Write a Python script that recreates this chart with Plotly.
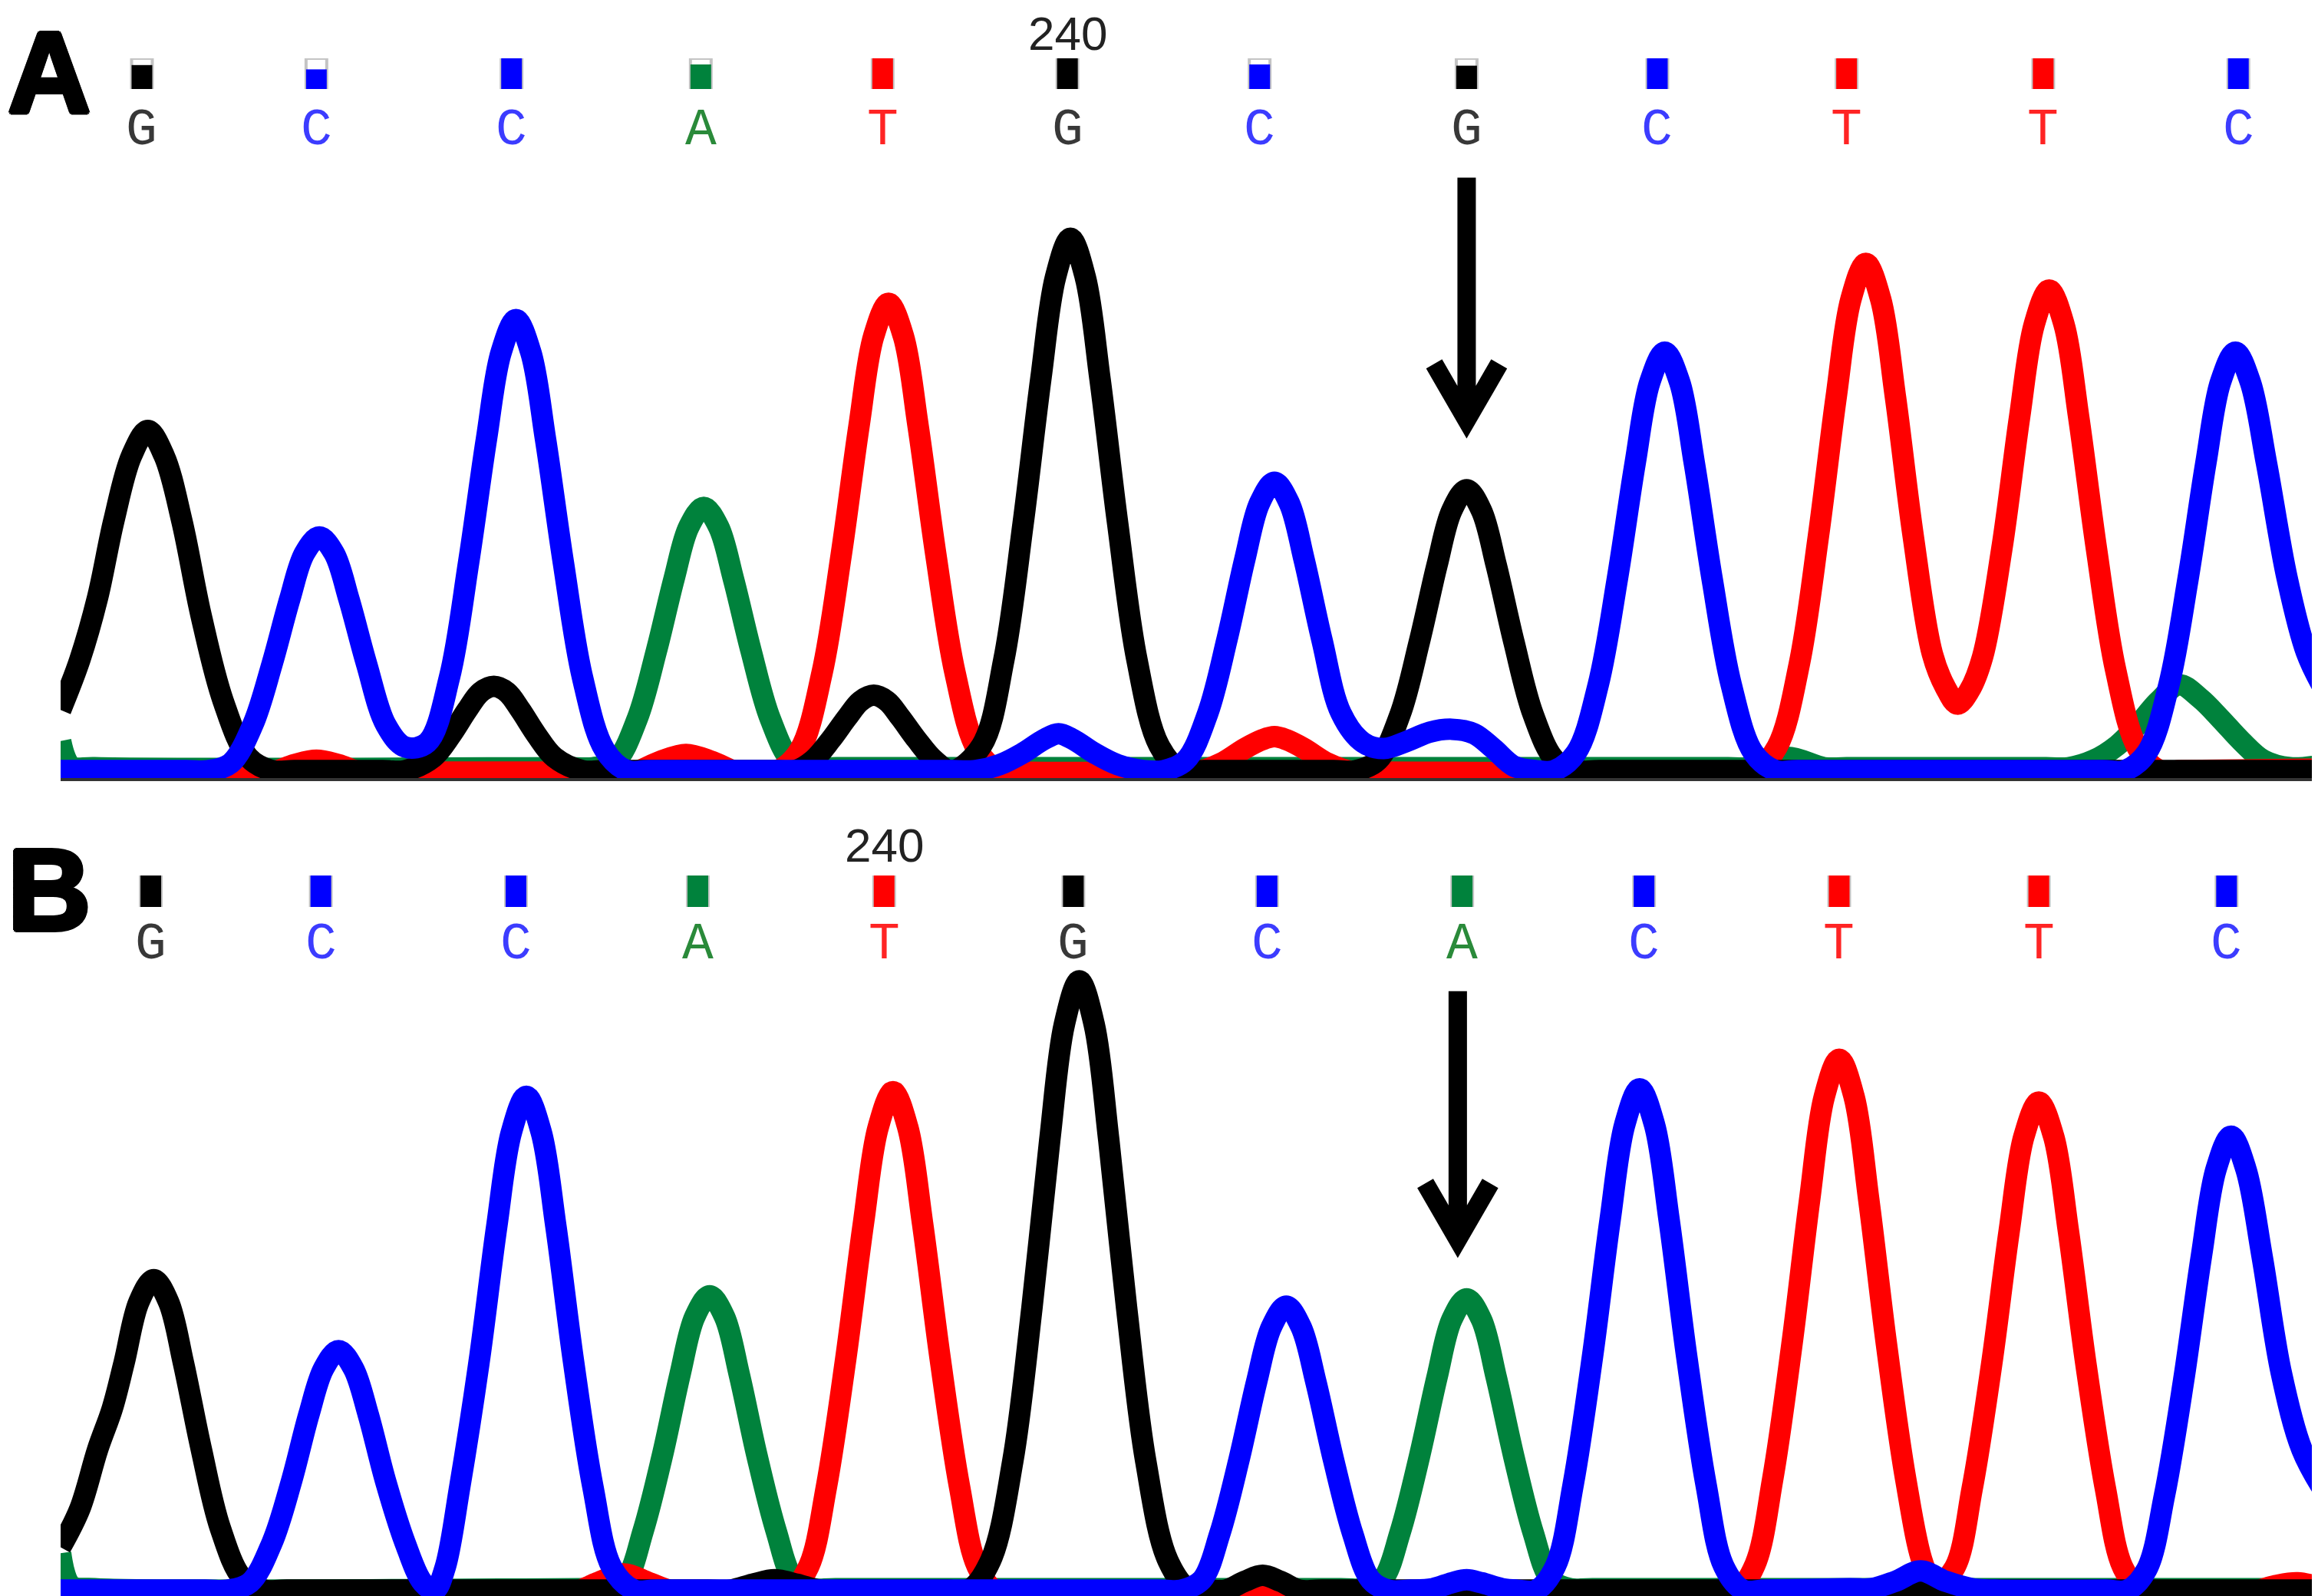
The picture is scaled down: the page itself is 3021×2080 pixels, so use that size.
import plotly.graph_objects as go

# base calls shown above the two traces (wild type A, variant B)
bases_a = ['G', 'C', 'C', 'A', 'T', 'G', 'C', 'G', 'C', 'T', 'T', 'C']
bases_b = ['G', 'C', 'C', 'A', 'T', 'G', 'C', 'A', 'C', 'T', 'T', 'C']
base_pos_a = [92, 210, 342, 470, 593, 718, 848, 988, 1117, 1245, 1378, 1510]
base_pos_b = [98, 213, 345, 468, 594, 722, 853, 985, 1108, 1240, 1375, 1502]
quality_a = [0.78, 0.64, 1.0, 0.8, 1.0, 1.0, 0.8, 0.76, 1.0, 1.0, 1.0, 1.0]
quality_b = [1.0, 1.0, 1.0, 1.0, 1.0, 1.0, 1.0, 1.0, 1.0, 1.0, 1.0, 1.0]
position_label = '240'
position_base_a = 5
position_base_b = 4
variant_base = 7

# panel A traces, (scan position, signal)
a_g = [(37, 46), (50, 80), (62, 122), (73, 174), (85, 218), (96, 235), (107, 218),
       (119, 174), (132, 110), (147, 52), (164, 14), (180, 5), (195, 5), (255, 5),
       (270, 5), (289, 14), (301, 29), (312, 46), (321, 58), (330, 62), (339, 58),
       (348, 46), (359, 29), (371, 14), (390, 5), (405, 5), (520, 5), (534, 5),
       (546, 12), (558, 26), (569, 41), (578, 52), (587, 56), (596, 52), (605, 41),
       (616, 26), (628, 12), (640, 5), (660, 22), (675, 80), (688, 172), (700, 270),
       (710, 339), (720, 365), (730, 339), (740, 270), (752, 172), (765, 80), (780, 22),
       (795, 5), (810, 5), (898, 5), (913, 5), (928, 12), (943, 43), (956, 92),
       (968, 144), (978, 181), (988, 195), (998, 181), (1008, 144), (1020, 92),
       (1033, 43), (1048, 12), (1063, 5), (1078, 5), (1568, 5)]
a_c = [(37, 5), (122, 5), (137, 5), (152, 10), (167, 36), (180, 77), (192, 121),
       (202, 152), (212, 163), (222, 152), (232, 121), (244, 77), (257, 36), (270, 21),
       (285, 24), (300, 68), (313, 146), (325, 229), (335, 288), (345, 310), (355, 288),
       (365, 229), (377, 146), (390, 68), (405, 19), (420, 5), (435, 5), (640, 5),
       (655, 5), (672, 9), (688, 17), (702, 26), (712, 30), (722, 26), (736, 17),
       (752, 9), (770, 5), (783, 5), (798, 12), (813, 44), (826, 94), (838, 148),
       (848, 186), (858, 200), (868, 186), (878, 148), (890, 94), (903, 44), (918, 24),
       (932, 20), (948, 25), (963, 31), (978, 33), (993, 30), (1006, 20), (1020, 8),
       (1035, 5), (1047, 5), (1062, 17), (1077, 63), (1090, 135), (1102, 213),
       (1112, 268), (1122, 288), (1132, 268), (1142, 213), (1154, 135), (1167, 63),
       (1182, 17), (1197, 5), (1212, 5), (1418, 5), (1433, 5), (1448, 17), (1463, 63),
       (1476, 135), (1488, 213), (1498, 268), (1508, 288), (1518, 268), (1529, 213),
       (1543, 135), (1556, 85), (1568, 60)]
a_t = [(37, 4), (165, 4), (180, 4), (195, 9), (210, 12), (225, 9), (240, 4), (255, 4),
       (410, 4), (425, 4), (442, 11), (460, 16), (478, 11), (495, 4), (510, 4), (522, 5),
       (537, 19), (552, 71), (565, 151), (577, 238), (587, 299), (597, 321), (607, 299),
       (617, 238), (629, 151), (642, 71), (657, 19), (672, 5), (687, 4), (790, 4),
       (805, 4), (822, 10), (838, 20), (850, 26), (858, 28), (866, 26), (878, 20),
       (894, 10), (912, 4), (927, 4), (1168, 4), (1183, 5), (1198, 21), (1213, 77),
       (1226, 164), (1238, 258), (1248, 324), (1258, 348), (1268, 324), (1278, 258),
       (1290, 164), (1303, 84), (1312, 61), (1320, 50), (1328, 59), (1337, 82),
       (1350, 155), (1362, 244), (1372, 307), (1382, 330), (1392, 307), (1402, 244),
       (1414, 155), (1427, 73), (1442, 20), (1457, 5), (1472, 5), (1568, 6)]
a_a = [(37, 25), (44, 8), (60, 7), (382, 7), (397, 7), (412, 11), (427, 40), (440, 86),
       (452, 135), (462, 170), (472, 183), (482, 170), (492, 135), (504, 86), (517, 40),
       (532, 11), (547, 7), (562, 7), (1165, 7), (1180, 7), (1205, 14), (1230, 7),
       (1245, 7), (1380, 7), (1395, 7), (1412, 12), (1428, 22), (1442, 36), (1456, 52),
       (1470, 63), (1484, 54), (1498, 40), (1512, 25), (1527, 12), (1545, 7), (1568, 9)]

# panel B traces
b_g = [(37, 34), (50, 60), (62, 100), (72, 128), (80, 159), (90, 200), (100, 215),
       (110, 200), (120, 159), (132, 101), (145, 47), (160, 13), (175, 5), (190, 5),
       (475, 5), (490, 5), (505, 9), (520, 12), (535, 9), (550, 5), (565, 5), (636, 5),
       (651, 5), (666, 25), (681, 92), (694, 196), (706, 309), (716, 388), (726, 417),
       (736, 388), (746, 309), (758, 196), (771, 92), (786, 25), (801, 5), (813, 5),
       (825, 5), (838, 11), (850, 15), (862, 11), (875, 5), (890, 5), (1568, 5)]
b_c = [(37, 5), (135, 5), (150, 5), (165, 10), (180, 37), (193, 78), (205, 124),
       (215, 155), (225, 167), (235, 155), (245, 124), (257, 78), (270, 37), (282, 10),
       (290, 5), (297, 20), (307, 75), (320, 159), (332, 251), (342, 315), (352, 339),
       (362, 315), (372, 251), (384, 159), (397, 75), (410, 20), (425, 5), (440, 5),
       (780, 5), (795, 5), (809, 12), (821, 43), (834, 93), (846, 146), (856, 183),
       (866, 197), (876, 183), (886, 146), (898, 93), (911, 43), (923, 12), (935, 5),
       (950, 5), (965, 6), (978, 10), (988, 12), (998, 10), (1012, 6), (1022, 5),
       (1035, 5), (1048, 21), (1060, 76), (1073, 162), (1085, 255), (1095, 320),
       (1105, 344), (1115, 320), (1125, 255), (1137, 162), (1150, 76), (1162, 21),
       (1175, 5), (1190, 5), (1247, 6), (1262, 6), (1278, 11), (1295, 18), (1312, 11),
       (1330, 6), (1345, 5), (1420, 5), (1435, 5), (1448, 19), (1460, 69), (1473, 147),
       (1485, 231), (1495, 290), (1505, 312), (1515, 290), (1526, 231), (1539, 152),
       (1553, 100), (1568, 72)]
b_t = [(37, 4), (370, 4), (385, 4), (400, 10), (418, 16), (435, 10), (452, 4), (467, 4),
       (515, 4), (530, 4), (543, 21), (555, 75), (568, 161), (580, 253), (590, 318),
       (600, 342), (610, 318), (620, 253), (632, 161), (645, 75), (657, 21), (670, 4),
       (685, 4), (1155, 4), (1170, 4), (1183, 22), (1195, 80), (1208, 171), (1220, 269),
       (1230, 339), (1240, 364), (1250, 339), (1260, 269), (1272, 171), (1285, 80),
       (1297, 22), (1305, 8), (1318, 20), (1330, 74), (1343, 157), (1355, 248),
       (1365, 312), (1375, 335), (1385, 312), (1395, 248), (1407, 157), (1420, 74),
       (1432, 20), (1445, 4), (1460, 4), (1505, 4), (1520, 4), (1535, 8), (1550, 10),
       (1568, 6)]
b_a = [(37, 30), (44, 8), (60, 6), (390, 6), (405, 6), (419, 12), (431, 45), (444, 96),
       (456, 151), (466, 190), (476, 204), (486, 190), (496, 151), (508, 96), (521, 45),
       (533, 12), (546, 6), (561, 6), (903, 6), (918, 6), (931, 12), (943, 44), (956, 95),
       (968, 149), (978, 188), (988, 202), (998, 188), (1008, 149), (1020, 95),
       (1033, 44), (1045, 12), (1058, 6), (1073, 6), (1568, 6)]

trace_colors = {'G': '#000000', 'C': '#0000ff', 'A': '#00823c', 'T': '#ff0000'}
letter_colors = {'G': '#383838', 'C': '#3c3cff', 'A': '#2a8a3a', 'T': '#ff2424'}

W, H = 3021, 2080


def add_panel(fig, xa, ya, yq, traces, bases, pos, qual):
    # green first, blue last so the overlaps look like the original
    for ch, pts in traces:
        xs, ys = zip(*pts)
        fig.add_trace(go.Scatter(
            x=xs, y=ys, mode='lines',
            line=dict(color=trace_colors[ch], width=28, shape='spline', smoothing=1),
            xaxis=xa, yaxis=ya, hoverinfo='skip'))
    # quality boxes above the calls
    fig.add_trace(go.Bar(
        x=pos, y=[1] * len(pos), width=14,
        marker=dict(color='white', line=dict(color='#c4c4c4', width=4)),
        xaxis=xa, yaxis=yq, hoverinfo='skip'))
    fig.add_trace(go.Bar(
        x=pos, y=qual, width=14,
        marker=dict(color=[trace_colors[b] for b in bases], line=dict(width=0)),
        xaxis=xa, yaxis=yq, hoverinfo='skip'))


fig = go.Figure()
add_panel(fig, 'x', 'y', 'y3', [('A', a_a), ('T', a_t), ('G', a_g), ('C', a_c)],
          bases_a, base_pos_a, quality_a)
add_panel(fig, 'x2', 'y2', 'y4', [('A', b_a), ('T', b_t), ('G', b_g), ('C', b_c)],
          bases_b, base_pos_b, quality_b)

axis_common = dict(range=[37, 1568], domain=[71 / W, 1], showticklabels=False, ticks='',
                   showgrid=False, zeroline=False, showline=True, linecolor='#333333',
                   linewidth=4, fixedrange=True)
hidden = dict(visible=False, showgrid=False, zeroline=False, fixedrange=True)

fig.update_layout(
    width=W, height=H,
    margin=dict(l=0, r=0, t=0, b=0),
    paper_bgcolor='white', plot_bgcolor='white',
    showlegend=False, barmode='overlay',
    xaxis=dict(anchor='y', **axis_common),
    xaxis2=dict(anchor='y2', **axis_common),
    yaxis=dict(domain=[1 - 1006 / H, 1 - 158 / H], range=[0, 440], anchor='x', **hidden),
    yaxis2=dict(domain=[1 - 2074 / H, 1 - 1226 / H], range=[0, 440], anchor='x2', **hidden),
    yaxis3=dict(domain=[1 - 108 / H, 1 - 68 / H], range=[0, 1], anchor='x', **hidden),
    yaxis4=dict(domain=[1 - 1174 / H, 1 - 1133 / H], range=[0, 1], anchor='x2', **hidden),
)

# heavy panel letters: thicken the bold face a little with a tight shadow
heavy = ('3px 0 0 #000, -3px 0 0 #000, 0 3px 0 #000, 0 -3px 0 #000, '
         '2px 2px 0 #000, -2px -2px 0 #000, 2px -2px 0 #000, -2px 2px 0 #000')

annotations = []
for label, ytop in [('A', 1.0), ('B', 1 - 1066 / H)]:
    annotations.append(dict(
        text='<b>' + label + '</b>', x=0, y=ytop, xref='paper', yref='paper',
        xanchor='left', yanchor='top', showarrow=False,
        font=dict(family='Liberation Sans, Arial, sans-serif', size=150, color='black',
                  shadow=heavy)))

# base calls
for xa, bases, pos, ymid in [('x', bases_a, base_pos_a, 1 - 162 / H),
                             ('x2', bases_b, base_pos_b, 1 - 1222 / H)]:
    for b, p in zip(bases, pos):
        annotations.append(dict(
            text=b, x=p, y=ymid, xref=xa, yref='paper', showarrow=False,
            xanchor='center', yanchor='middle',
            font=dict(family='Liberation Mono, DejaVu Sans Mono, monospace', size=68,
                      color=letter_colors[b])))

# position number
annotations.append(dict(
    text=position_label, x=base_pos_a[position_base_a], y=1 - 35 / H, xref='x', yref='paper',
    showarrow=False, xanchor='center', yanchor='middle',
    font=dict(family='Liberation Sans, Arial, sans-serif', size=62, color='#222222')))
annotations.append(dict(
    text=position_label, x=base_pos_b[position_base_b], y=1 - 1093 / H, xref='x2', yref='paper',
    showarrow=False, xanchor='center', yanchor='middle',
    font=dict(family='Liberation Sans, Arial, sans-serif', size=62, color='#222222')))

fig.update_layout(annotations=annotations)

# arrows pointing at the variant peak
arrow_a = base_pos_a[variant_base]
arrow_b = base_pos_b[variant_base] - 3
shapes = []
for xr, yr, ax, top, tip in [('x', 'y', arrow_a, 406, 242), ('x2', 'y2', arrow_b, 410, 242)]:
    path = 'M {0},{1} L {0},{2} M {3},{4} L {0},{2} L {5},{4}'.format(
        ax, top, tip, ax - 22, tip + 38, ax + 22)
    shapes.append(dict(type='path', path=path, xref=xr, yref=yr,
                       line=dict(color='black', width=24)))
fig.update_layout(shapes=shapes)

fig.write_html("out.html")
